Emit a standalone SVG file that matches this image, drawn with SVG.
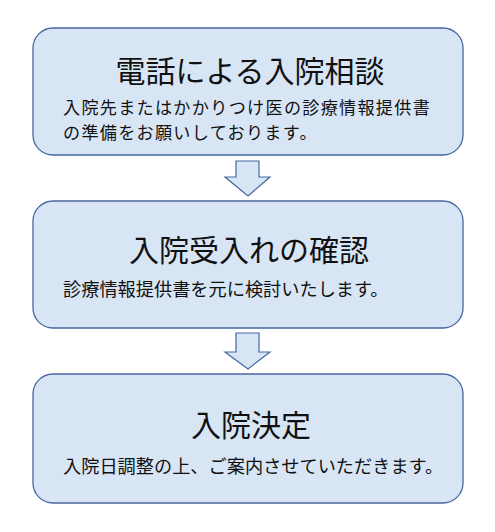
<svg xmlns="http://www.w3.org/2000/svg" width="495" height="532" viewBox="0 0 495 532">
<style>
.box{fill:#d8e5f5;stroke:#4866a0;stroke-width:1.3}
.arrow{fill:#d8e5f5;stroke:#4866a0;stroke-width:1.2;stroke-linejoin:miter}
.title{font-family:"Noto Sans CJK JP","Noto Sans CJK SC",sans-serif;font-size:30px;fill:#111;text-anchor:middle}
.body{font-family:"Noto Sans CJK JP","Noto Sans CJK SC",sans-serif;font-size:18.2px;fill:#111}
.body2{font-family:"Noto Sans CJK JP","Noto Sans CJK SC",sans-serif;font-size:17.1px;letter-spacing:1.3px;fill:#111}
</style>
<rect width="495" height="532" fill="#ffffff"/>
<g id="connectors">
<polygon class="arrow" points="236,161 259,161 259,177 270,177 248,196 225,177 236,177"/>
<polygon class="arrow" points="236,333 259,333 259,352 270,352 248,369 225,352 236,352"/>
</g>
<g id="node1">
<rect class="box" x="33" y="28" width="430" height="127" rx="20"/>
<text class="title" x="250" y="82">電話による入院相談</text>
<text class="body2" x="63" y="114">入院先またはかかりつけ医の診療情報提供書</text>
<text class="body2" x="63" y="139">の準備をお願いしております。</text>
</g>
<g id="node2">
<rect class="box" x="33" y="201" width="430" height="127" rx="20"/>
<text class="title" x="249" y="261">入院受入れの確認</text>
<text class="body" x="63" y="296">診療情報提供書を元に検討いたします。</text>
</g>
<g id="node3">
<rect class="box" x="33" y="374" width="430" height="129" rx="20"/>
<text class="title" x="251" y="436">入院決定</text>
<text class="body" x="63" y="473">入院日調整の上、ご案内させていただきます。</text>
</g>
</svg>
